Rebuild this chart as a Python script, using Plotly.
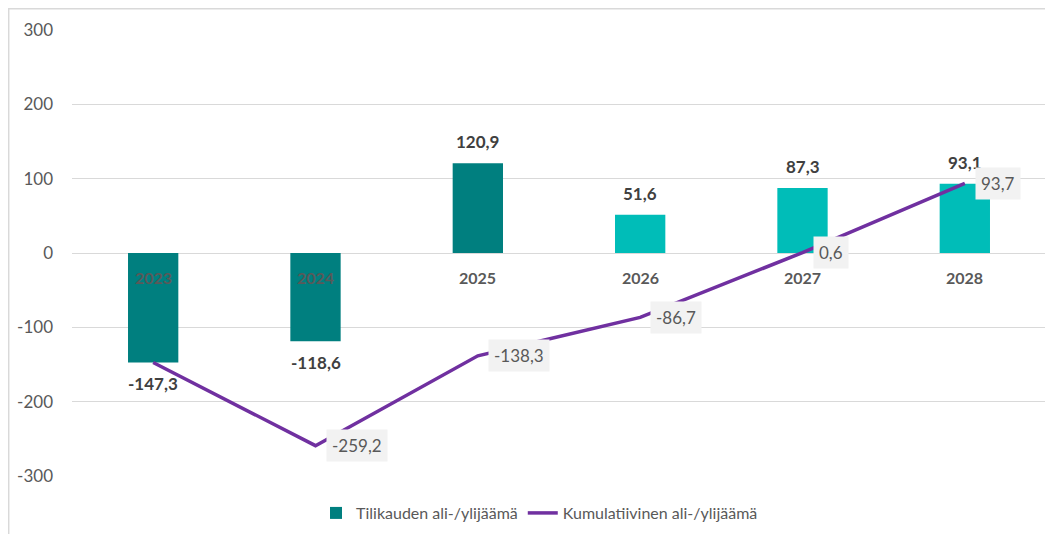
import plotly.graph_objects as go

years = ["2023", "2024", "2025", "2026", "2027", "2028"]
annual = [-147.3, -118.6, 120.9, 51.6, 87.3, 93.1]
cumulative = [-147.3, -259.2, -138.3, -86.7, 0.6, 93.7]
bar_colors = ["#007F7F", "#007F7F", "#007F7F", "#00BDB8", "#00BDB8", "#00BDB8"]
y_ticks = [-300, -200, -100, 0, 100, 200, 300]

FONT = "Lato, Carlito, Calibri, sans-serif"


def fi(v):
    # Finnish decimal comma, plain hyphen for negatives
    return f"{v:.1f}".replace(".", ",")


fig = go.Figure()

fig.add_trace(go.Bar(
    x=years, y=annual, name="Tilikauden ali-/ylijäämä",
    marker=dict(color=bar_colors, line=dict(width=0)),
    width=0.31,
))

fig.add_trace(go.Scatter(
    x=years, y=cumulative, name="Kumulatiivinen ali-/ylijäämä",
    mode="lines", line=dict(color="#7030A0", width=3.5),
))

# numeric-looking category names get read as indices by annotations,
# so annotations use the category index
annotations = []
# value labels of the bars
for i, v in enumerate(annual):
    annotations.append(dict(
        x=i, y=v, text=f"<b>{fi(v)}</b>", showarrow=False,
        yanchor="bottom" if v >= 0 else "top",
        yshift=9 if v >= 0 else -9,
        font=dict(family=FONT, size=17, color="#404040"),
    ))
# category labels sitting on the zero line
for i, yr in enumerate(years):
    annotations.append(dict(
        x=i, y=0, text=f"<b>{yr}</b>", showarrow=False,
        yanchor="middle", yshift=-24,
        font=dict(family=FONT, size=16, color="#595959"),
    ))
# labels of the cumulative line (first point shares the bar label)
for i, v in enumerate(cumulative):
    if i == 0:
        continue
    annotations.append(dict(
        x=i, y=v, text=fi(v), showarrow=False,
        xanchor="left", yanchor="middle", xshift=10,
        bgcolor="#F2F2F2", borderpad=5,
        font=dict(family=FONT, size=17, color="#595959"),
    ))

# page body has an 8px margin, margins below are relative to the plot div
fig.update_layout(
    width=1053, height=534,
    margin=dict(l=64, r=15, t=22, b=66, autoexpand=False),
    paper_bgcolor="white", plot_bgcolor="white",
    font=dict(family=FONT, size=15, color="#595959"),
    showlegend=True,
    legend=dict(
        orientation="h", x=0.48, xanchor="center", y=-0.083, yanchor="middle",
        font=dict(family=FONT, size=16, color="#595959"),
        itemwidth=30,
    ),
    bargap=0.69,
    annotations=annotations,
    shapes=[dict(
        type="rect", xref="paper", yref="paper",
        x0=-0.065, x1=1.2, y0=-0.3, y1=1.0475,
        line=dict(color="#D9D9D9", width=1.5), layer="below",
    )],
)

fig.update_xaxes(type="category", range=[-0.5, 5.5], showticklabels=False,
                 showgrid=False, zeroline=False, showline=False, ticks="")
fig.update_yaxes(
    range=[-300, 300], tickvals=y_ticks, ticktext=[str(t) for t in y_ticks],
    showgrid=True, gridcolor="#D9D9D9", gridwidth=1,
    zeroline=True, zerolinecolor="#D9D9D9", zerolinewidth=1,
    showline=False, ticks="", ticklabelstandoff=18,
    tickfont=dict(family=FONT, size=17, color="#595959"),
)

fig.write_html("out.html")
